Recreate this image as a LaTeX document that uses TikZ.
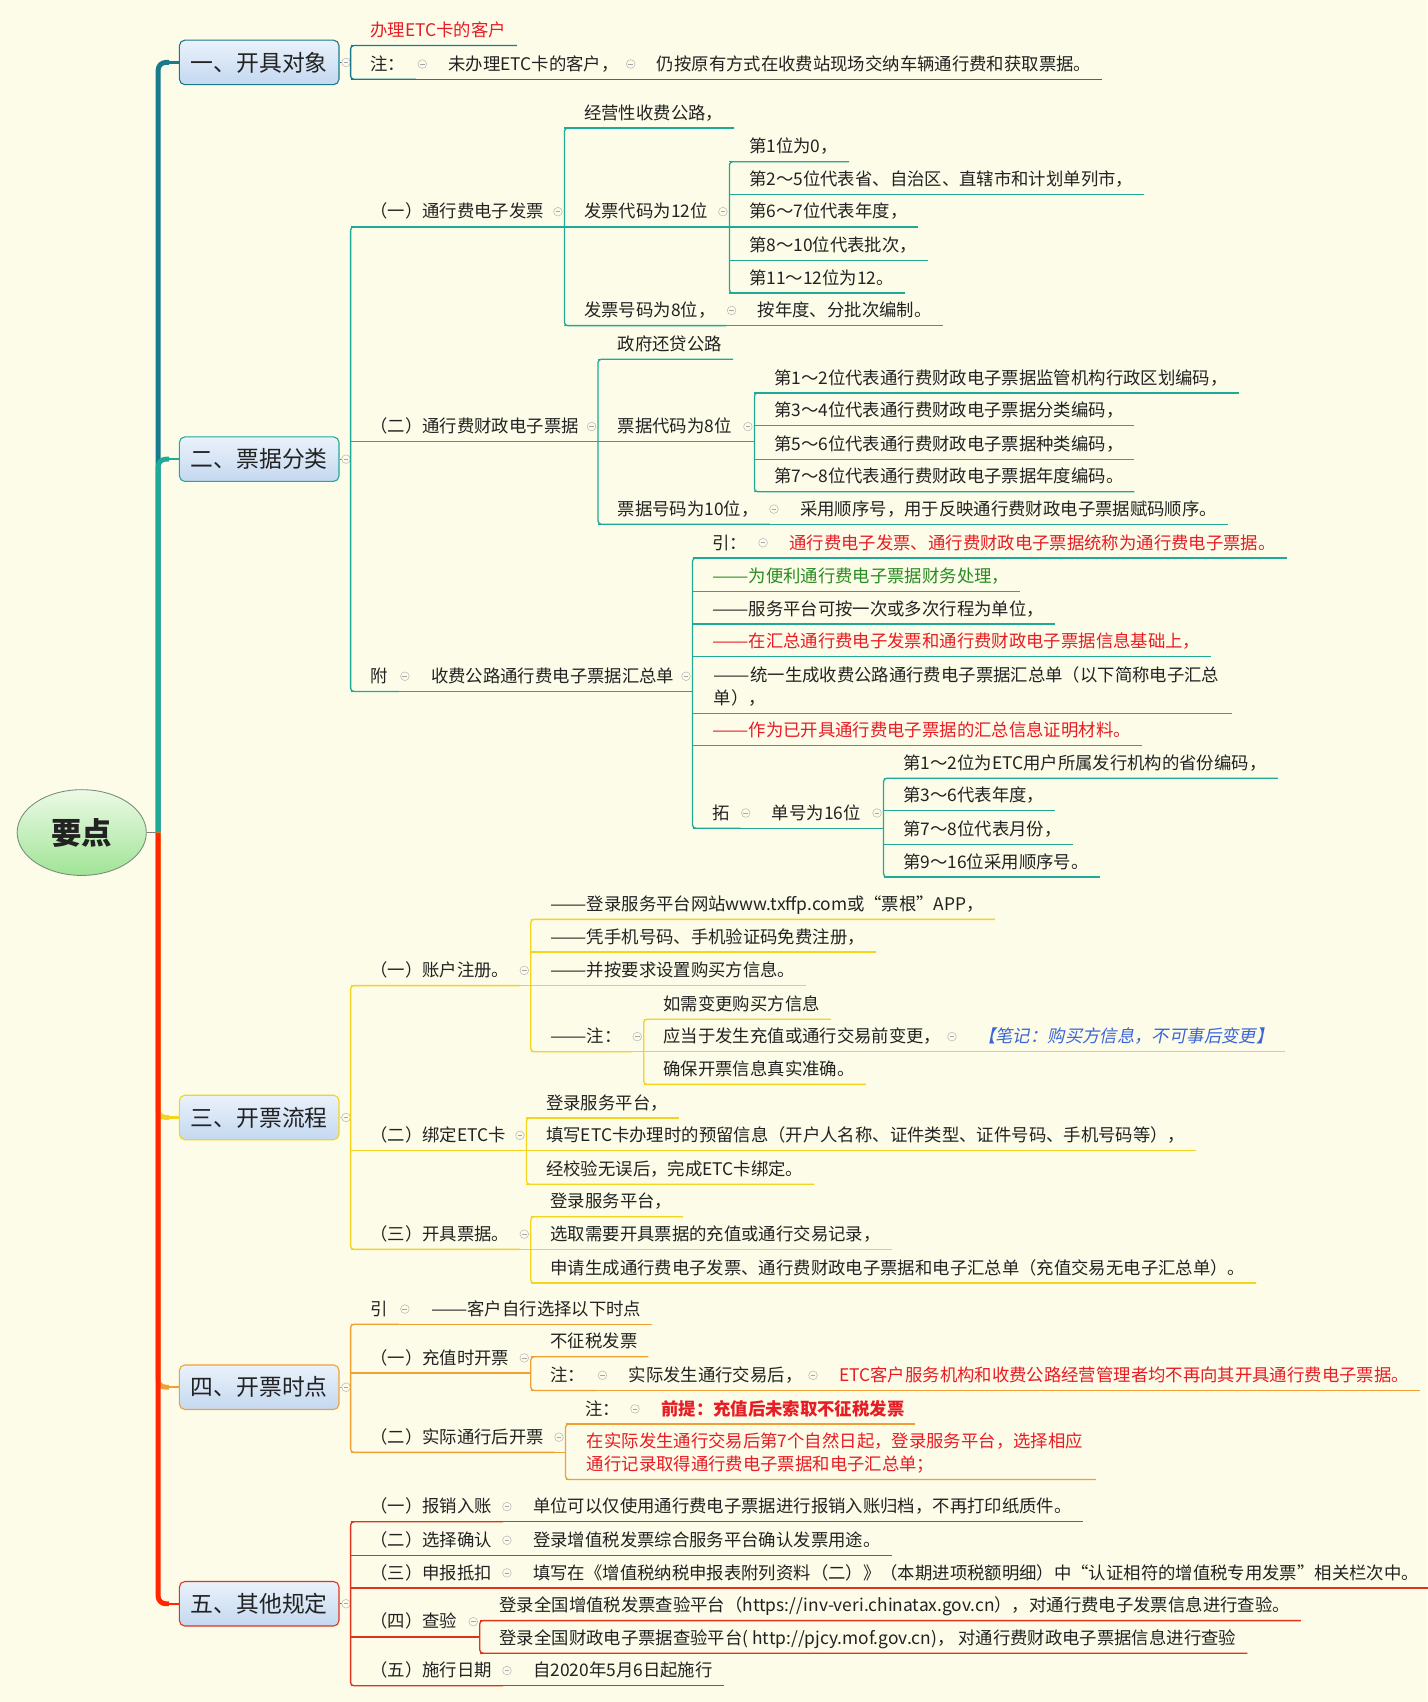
\documentclass[tikz,border=0pt]{standalone}
\usepackage{fontspec}
\usepackage{graphicx}
\setmainfont{Noto Sans CJK SC}
\newfontfamily\notefont[FakeSlant=0.2]{Noto Sans CJK SC}
\usetikzlibrary{shapes.geometric,calc}

\definecolor{bgc}{RGB}{252,252,232}
\definecolor{txt}{RGB}{34,34,34}
\definecolor{redtxt}{RGB}{232,28,36}
\definecolor{greentxt}{RGB}{40,140,32}
\definecolor{bluetxt}{RGB}{58,100,215}
\definecolor{c1}{RGB}{24,122,140}
\definecolor{c2}{RGB}{30,170,150}
\definecolor{c3}{RGB}{245,212,30}
\definecolor{c4}{RGB}{240,160,52}
\definecolor{c5}{RGB}{222,52,30}
\definecolor{c5t}{RGB}{255,38,0}
\colorlet{ucol}{c1}

\newcommand{\topicfont}{\fontsize{16}{21}\selectfont}
\newcommand{\dash}{\scalebox{1.25}[1]{——}}

\tikzset{
  sub/.style={draw=ucol, line width=1.2pt},
  topic/.style={anchor=south west, inner xsep=15pt, inner ysep=5pt,
    text height=12pt, text depth=3pt, text=txt, font=\topicfont,
    execute at begin node=\hspace*{3pt}, execute at end node=\hspace*{-5pt},
    append after command={(\tikzlastnode.south west) edge[sub] (\tikzlastnode.south east)}},
  twoline/.style={topic, align=left, text height={}, text depth={},
    execute at begin node={}, execute at end node={}, inner xsep=16.5pt},
  hot/.style={text=redtxt},
  hotb/.style={text=redtxt, font=\topicfont\bfseries},
  fold/.style={circle, draw=gray!55, fill=bgc, line width=0.5pt, inner sep=0pt,
    minimum size=8pt, path picture={\draw[gray!70, line width=0.6pt]
      ([xshift=-2.2pt]path picture bounding box.center) -- ([xshift=2.2pt]path picture bounding box.center);}},
  brbox/.style={rounded corners=5pt, draw=#1, line width=1pt,
    top color={rgb,255:red,234;green,242;blue,251}, bottom color={rgb,255:red,196;green,216;blue,240},
    minimum width=147pt, minimum height=41pt, font=\fontsize{21}{25}\selectfont, text=txt},
  root/.style={ellipse, draw={rgb,255:red,120;green,140;blue,120}, line width=0.8pt,
    top color={rgb,255:red,236;green,250;blue,230}, bottom color={rgb,255:red,160;green,228;blue,150},
    minimum width=119pt, minimum height=79pt, font=\fontsize{28}{32}\selectfont\bfseries, text=txt}
}

% branch line from the hub to a box
\newcommand{\tobox}[2]{%
  \draw[#1, line width=4.5pt, rounded corners=7pt] (hub) |- ($(#2.west)+(-9,0)$);
  \draw[#1, line width=2.2pt] ($(#2.west)+(-10,0)$) -- (#2.west);}
% parent underline to child, with fold mark
\newcommand{\fold}[2]{%
  \draw[sub] (#1.south west) -- (#1.south west -| #2.south west);
  \node[fold] at ($(#1.south west -| #2.south west)+(-6,-14)$) {};}
\newcommand{\boxfold}[2]{%
  \draw[sub] (#1.east) -- (#1.east -| #2.south west);
  \node[fold] at ($(#1.east)+(6,0)$) {};}
% vertical line joining first and last child
\newcommand{\spine}[2]{%
  \draw[sub, rounded corners=3pt] (#1.south east) -- (#1.south west) -- (#2.south west) -- (#2.south east);}

\begin{document}
\begin{tikzpicture}[x=1pt, y=-1pt]
\fill[bgc] (0,0) rectangle (1315,1568);
\useasboundingbox (0,0) rectangle (1315,1568);

% root and main branches
\node[root] (root) at (75.3,767) {要点};
\coordinate (hub) at ($(root.east)+(10.5,0)$);
\draw[gray, line width=0.8pt] (root.east) -- (hub);
\node[brbox=c1] (t1) at (238.8,57.5) {一、开具对象};
\node[brbox=c2] (t2) at (238.8,423) {二、票据分类};
\node[brbox=c3] (t3) at (238.8,1029.5) {三、开票流程};
\node[brbox=c4] (t4) at (238.8,1278) {四、开票时点};
\node[brbox=c5] (t5) at (238.8,1477.5) {五、其他规定};
\tobox{c1}{t1}
\tobox{c2}{t2}
\tobox{c3}{t3}
\tobox{c4}{t4}
\tobox{c5t}{t5}

% 一
\begin{scope}
\colorlet{ucol}{c1}
\node[topic, hot] (a1) at (323,42) {办理ETC卡的客户};
\node[topic] (a2) at (323,73) {注：};
\node[topic] (a21) at (395,73) {未办理ETC卡的客户，};
\node[topic] (a211) at (587,73) {仍按原有方式在收费站现场交纳车辆通行费和获取票据。};
\boxfold{t1}{a1}
\spine{a1}{a2}
\fold{a2}{a21}
\fold{a21}{a211}
\end{scope}

% 二
\begin{scope}
\colorlet{ucol}{c2}
\node[topic] (b1) at (323,209) {（一）通行费电子发票};
\node[topic] (b11) at (520,118) {经营性收费公路，};
\node[topic] (b12) at (520,209) {发票代码为12位};
\node[topic] (b121) at (672,149) {第1位为0，};
\node[topic] (b122) at (672,179) {第2～5位代表省、自治区、直辖市和计划单列市，};
\node[topic] (b123) at (672,209) {第6～7位代表年度，};
\node[topic] (b124) at (672,240) {第8～10位代表批次，};
\node[topic] (b125) at (672,270) {第11～12位为12。};
\node[topic] (b13) at (520,300) {发票号码为8位，};
\node[topic] (b131) at (680,300) {按年度、分批次编制。};
\node[topic] (b2) at (323,407) {（二）通行费财政电子票据};
\node[topic] (b21) at (551,331) {政府还贷公路};
\node[topic] (b22) at (551,407) {票据代码为8位};
\node[topic] (b221) at (695,362) {第1～2位代表通行费财政电子票据监管机构行政区划编码，};
\node[topic] (b222) at (695,392) {第3～4位代表通行费财政电子票据分类编码，};
\node[topic] (b223) at (695,423) {第5～6位代表通行费财政电子票据种类编码，};
\node[topic] (b224) at (695,453) {第7～8位代表通行费财政电子票据年度编码。};
\node[topic] (b23) at (551,483) {票据号码为10位，};
\node[topic] (b231) at (719,483) {采用顺序号，用于反映通行费财政电子票据赋码顺序。};
\node[topic] (b3) at (323,637) {附};
\node[topic] (b31) at (379,637) {收费公路通行费电子票据汇总单};
\node[topic] (b311) at (638,514) {引：};
\node[topic, hot] (b3111) at (709,514) {通行费电子发票、通行费财政电子票据统称为通行费电子票据。};
\node[topic, text=greentxt] (b312) at (638,545) {\dash 为便利通行费电子票据财务处理，};
\node[topic] (b313) at (638,575) {\dash 服务平台可按一次或多次行程为单位，};
\node[topic, hot] (b314) at (638,605) {\dash 在汇总通行费电子发票和通行费财政电子票据信息基础上，};
\node[twoline] (b315) at (638,657) {\dash 统一生成收费公路通行费电子票据汇总单（以下简称电子汇总\\单），\rule[-3pt]{0pt}{3pt}};
\node[topic, hot] (b316) at (638,687) {\dash 作为已开具通行费电子票据的汇总信息证明材料。};
\node[topic] (b317) at (638,763) {拓};
\node[topic] (b3171) at (693,763) {单号为16位};
\node[topic] (b31711) at (814,717) {第1～2位为ETC用户所属发行机构的省份编码，};
\node[topic] (b31712) at (814,747) {第3～6代表年度，};
\node[topic] (b31713) at (814,778) {第7～8位代表月份，};
\node[topic] (b31714) at (814,808) {第9～16位采用顺序号。};
\boxfold{t2}{b1}
\spine{b1}{b3}
\fold{b1}{b11}
\spine{b11}{b13}
\fold{b12}{b121}
\spine{b121}{b125}
\fold{b13}{b131}
\fold{b2}{b21}
\spine{b21}{b23}
\fold{b22}{b221}
\spine{b221}{b224}
\fold{b23}{b231}
\fold{b3}{b31}
\fold{b31}{b311}
\spine{b311}{b317}
\fold{b311}{b3111}
\fold{b317}{b3171}
\fold{b3171}{b31711}
\spine{b31711}{b31714}
\end{scope}

% 三
\begin{scope}
\colorlet{ucol}{c3}
\node[topic] (c1) at (323,908) {（一）账户注册。};
\node[topic] (c11) at (489,847) {\dash 登录服务平台网站www.txffp.com或“票根”APP，};
\node[topic] (c12) at (489,877) {\dash 凭手机号码、手机验证码免费注册，};
\node[topic] (c13) at (489,908) {\dash 并按要求设置购买方信息。};
\node[topic] (c14) at (489,969) {\dash 注：};
\node[topic] (c141) at (593,939) {如需变更购买方信息};
\node[topic] (c142) at (593,969) {应当于发生充值或通行交易前变更，};
\node[topic, text=bluetxt, font=\topicfont\notefont] (c1421) at (883,969) {【笔记：购买方信息，不可事后变更】};
\node[topic] (c143) at (593,999) {确保开票信息真实准确。};
\node[topic] (c2) at (323,1060) {（二）绑定ETC卡};
\node[topic] (c21) at (485,1030) {登录服务平台，};
\node[topic] (c22) at (485,1060) {填写ETC卡办理时的预留信息（开户人名称、证件类型、证件号码、手机号码等），};
\node[topic] (c23) at (485,1091) {经校验无误后，完成ETC卡绑定。};
\node[topic] (c3) at (323,1151) {（三）开具票据。};
\node[topic] (c31) at (489,1121) {登录服务平台，};
\node[topic] (c32) at (489,1151) {选取需要开具票据的充值或通行交易记录，};
\node[topic] (c33) at (489,1182) {申请生成通行费电子发票、通行费财政电子票据和电子汇总单（充值交易无电子汇总单）。};
\boxfold{t3}{c1}
\spine{c1}{c3}
\fold{c1}{c11}
\spine{c11}{c14}
\fold{c14}{c141}
\spine{c141}{c143}
\fold{c142}{c1421}
\fold{c2}{c21}
\spine{c21}{c23}
\fold{c3}{c31}
\spine{c31}{c33}
\end{scope}

% 四
\begin{scope}
\colorlet{ucol}{c4}
\node[topic] (d1) at (323,1220) {引};
\node[topic] (d11) at (379,1220) {\dash 客户自行选择以下时点};
\node[topic] (d2) at (323,1265) {（一）充值时开票};
\node[topic] (d21) at (489,1250) {不征税发票};
\node[topic] (d22) at (489,1281) {注：};
\node[topic] (d221) at (561,1281) {实际发生通行交易后，};
\node[topic, hot] (d2211) at (755,1281) {ETC客户服务机构和收费公路经营管理者均不再向其开具通行费电子票据。};
\node[topic] (d3) at (323,1338) {（二）实际通行后开票};
\node[topic] (d31) at (521,1312) {注：};
\node[topic, hotb] (d311) at (591,1312) {前提：充值后未索取不征税发票};
\node[twoline, hot] (d32) at (521,1363) {在实际发生通行交易后第7个自然日起，登录服务平台，选择相应\\通行记录取得通行费电子票据和电子汇总单；\rule[-3pt]{0pt}{3pt}};
\boxfold{t4}{d1}
\spine{d1}{d3}
\fold{d1}{d11}
\fold{d2}{d21}
\spine{d21}{d22}
\fold{d22}{d221}
\fold{d221}{d2211}
\fold{d3}{d31}
\spine{d31}{d32}
\fold{d31}{d311}
\end{scope}

% 五
\begin{scope}
\colorlet{ucol}{c5}
\node[topic] (e1) at (323,1402) {（一）报销入账};
\node[topic] (e11) at (473,1402) {单位可以仅使用通行费电子票据进行报销入账归档，不再打印纸质件。};
\node[topic] (e2) at (323,1433) {（二）选择确认};
\node[topic] (e21) at (473,1433) {登录增值税发票综合服务平台确认发票用途。};
\node[topic] (e3) at (323,1463) {（三）申报抵扣};
\node[topic] (e31) at (473,1463) {填写在《增值税纳税申报表附列资料（二）》（本期进项税额明细）中“认证相符的增值税专用发票”相关栏次中。};
\node[topic] (e4) at (323,1508) {（四）查验};
\node[topic] (e41) at (442,1493) {登录全国增值税发票查验平台（https://inv-veri.chinatax.gov.cn），对通行费电子发票信息进行查验。};
\node[topic] (e42) at (442,1523) {登录全国财政电子票据查验平台( http://pjcy.mof.gov.cn)， 对通行费财政电子票据信息进行查验};
\node[topic] (e5) at (323,1553) {（五）施行日期};
\node[topic] (e51) at (473,1553) {自2020年5月6日起施行};
\boxfold{t5}{e1}
\spine{e1}{e5}
\fold{e1}{e11}
\fold{e2}{e21}
\fold{e3}{e31}
\fold{e4}{e41}
\spine{e41}{e42}
\fold{e5}{e51}
\end{scope}
\end{tikzpicture}
\end{document}
